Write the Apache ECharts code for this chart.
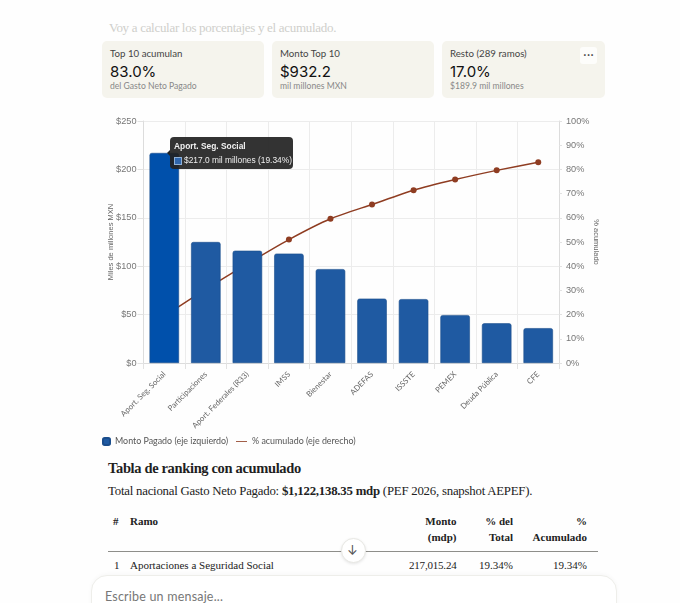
<!DOCTYPE html>
<html lang="es">
<head>
<meta charset="utf-8">
<style>
html,body{margin:0;padding:0;background:#fefefe;width:680px;height:603px;overflow:hidden}
.t{position:absolute;white-space:nowrap;line-height:1;transform:translateY(-50%)}
.s{font-family:"Liberation Serif",serif;color:#222}
.n{font-family:"Inter","Noto Sans",sans-serif}
.l{font-family:"Lato","Noto Sans",sans-serif}
.card{position:absolute;top:41px;height:57px;background:#f5f4ed;border-radius:5px}
.r{text-align:right;transform:translate(-100%,-50%)}
b{font-weight:700}
</style>
<script src="https://cdn.jsdelivr.net/npm/echarts@6/dist/echarts.min.js"></script>
</head>
<body>
<div class="t s" style="left:109px;top:27px;font-size:13px;letter-spacing:-.3px;color:#cfcfcb">Voy a calcular los porcentajes y el acumulado.</div>

<div class="card" style="left:102px;width:162px"></div>
<div class="card" style="left:272px;width:162px"></div>
<div class="card" style="left:442px;width:163px"></div>
<div class="t l" style="left:110px;top:54px;font-size:9.7px;color:#444">Top 10 acumulan</div>
<div class="t n" style="left:110px;top:70.5px;font-size:15px;color:#111">83.0%</div>
<div class="t l" style="left:110px;top:86px;font-size:8.6px;color:#888">del Gasto Neto Pagado</div>
<div class="t l" style="left:280px;top:54px;font-size:9.7px;color:#444">Monto Top 10</div>
<div class="t n" style="left:280px;top:70.5px;font-size:15px;color:#111">$932.2</div>
<div class="t l" style="left:280px;top:86px;font-size:8.6px;color:#888">mil millones MXN</div>
<div class="t l" style="left:450px;top:54px;font-size:9.7px;color:#444">Resto (289 ramos)</div>
<div class="t n" style="left:450px;top:70.5px;font-size:15px;color:#111">17.0%</div>
<div class="t l" style="left:450px;top:86px;font-size:8.6px;color:#888">$189.9 mil millones</div>
<div style="position:absolute;left:580px;top:47px;width:17px;height:17px;background:#fdfdfb;border-radius:3px"></div>
<div class="t n" style="left:583px;top:55px;font-size:11px;font-weight:700;color:#333">···</div>

<div id="chart" style="position:absolute;left:90px;top:105px;width:530px;height:350px"></div>

<div class="t s" style="left:108px;top:468px;font-size:14.5px;letter-spacing:-.35px;font-weight:700;color:#1f1f1f">Tabla de ranking con acumulado</div>
<div class="t s" style="left:108px;top:491px;font-size:12.8px;letter-spacing:-.22px">Total nacional Gasto Neto Pagado: <b>$1,122,138.35 mdp</b> (PEF 2026, snapshot AEPEF).</div>
<div class="t s" style="left:113px;top:521px;font-size:11px;font-weight:700">#</div>
<div class="t s" style="left:130px;top:521px;font-size:11px;font-weight:700">Ramo</div>
<div class="t s r" style="left:456.5px;top:521px;font-size:11px;font-weight:700">Monto</div>
<div class="t s r" style="left:456.5px;top:537px;font-size:11px;font-weight:700">(mdp)</div>
<div class="t s r" style="left:513px;top:521px;font-size:11px;font-weight:700">% del</div>
<div class="t s r" style="left:513px;top:537px;font-size:11px;font-weight:700">Total</div>
<div class="t s r" style="left:587px;top:521px;font-size:11px;font-weight:700">%</div>
<div class="t s r" style="left:587px;top:537px;font-size:11px;font-weight:700">Acumulado</div>
<div style="position:absolute;left:108px;top:551px;width:490px;height:1px;background:#8e8e8a"></div>
<div class="t s" style="left:114px;top:565px;font-size:11px">1</div>
<div class="t s" style="left:130px;top:565px;font-size:11px">Aportaciones a Seguridad Social</div>
<div class="t s r" style="left:456.5px;top:565px;font-size:11px;letter-spacing:-.2px">217,015.24</div>
<div class="t s r" style="left:513px;top:565px;font-size:11px">19.34%</div>
<div class="t s r" style="left:587px;top:565px;font-size:11px">19.34%</div>

<div style="position:absolute;left:341px;top:538px;width:23px;height:23px;border-radius:50%;background:#fff;border:1px solid #e8e8e4;box-shadow:0 1px 3px rgba(0,0,0,.1)"></div>
<div class="t n" style="left:347px;top:550px;font-size:13px;color:#555">↓</div>

<div style="position:absolute;left:91px;top:575px;width:524px;height:60px;border-radius:16px;background:#fff;border:1px solid #eeeeea;box-shadow:0 -1px 4px rgba(0,0,0,.03)"></div>
<div class="t l" style="left:105px;top:597px;font-size:12.5px;letter-spacing:.2px;color:#777">Escribe un mensaje...</div>

<script>
const categories = ["Aport. Seg. Social","Participaciones","Aport. Federales (R33)","IMSS","Bienestar","ADEFAS","ISSSTE","PEMEX","Deuda Pública","CFE"];
const montoPagado = [217.0,125.0,116.0,113.0,97.0,66.5,66.0,49.5,41.0,36.0];
const acumulado = [19.34,30.5,41.0,51.0,59.6,65.5,71.4,75.8,79.6,83.0];
const leftTicks = [0,50,100,150,200,250];
const barName = "Monto Pagado (eje izquierdo)";
const lineName = "% acumulado (eje derecho)";
const labelFont = '"Lato","Noto Sans",sans-serif';
const tickFont = '"Liberation Sans",sans-serif';

const chart = echarts.init(document.getElementById('chart'), null, {renderer:'canvas'});
chart.setOption({
  animation:false,
  backgroundColor:'transparent',
  tooltip:{
    trigger:'item',triggerOn:'none',alwaysShowContent:true,transitionDuration:0,
    backgroundColor:'transparent',borderWidth:0,padding:0,shadowBlur:0,
    extraCssText:'box-shadow:none;',
    position:[80,32],
    formatter:function(p){
      const i=p.dataIndex;
      return '<div style="position:relative;background:rgba(34,34,34,.92);border-radius:4px;width:123px;height:32px;box-sizing:border-box;padding:2px 4px;color:#fff;font:9px/1.4 Liberation Sans,sans-serif">'
        +'<div style="position:absolute;left:-3px;top:13px;width:0;height:0;border-top:3px solid transparent;border-bottom:3px solid transparent;border-right:3px solid #222"></div>'
        +'<div style="font-weight:700;height:14px;line-height:14px;font-size:8.4px;color:#f0f0f0">'+categories[i]+'</div>'
        +'<div style="display:flex;align-items:center;height:15px;font-size:8.4px;color:#eee;white-space:nowrap"><span style="flex:none;box-sizing:border-box;display:inline-block;width:8px;height:8px;background:#2f66ad;border:1px solid #8fb0d6;margin-right:2px"></span>$'+montoPagado[i].toFixed(1)+' mil millones ('+acumulado[0].toFixed(2)+'%)</div></div>';
    }
  },
  legend:[{
    left:12,top:332,padding:0,itemWidth:7,itemHeight:7,
    textStyle:{fontFamily:labelFont,fontSize:8.9,color:'#555'},
    data:[{name:barName,icon:'roundRect'}]
  },{
    left:146,top:332,padding:0,itemWidth:11,itemHeight:7,
    textStyle:{fontFamily:labelFont,fontSize:8.9,color:'#555'},
    data:[{name:lineName,icon:'path://M0 4H20V5.5H0Z'}]
  }],
  grid:{left:53.5,right:61,top:16,bottom:92,containLabel:false},
  xAxis:{
    type:'category',data:categories,
    boundaryGap:true,
    axisLine:{lineStyle:{color:'#dcdcdc'}},
    axisTick:{show:true,length:6,lineStyle:{color:'#e2e2e2'},alignWithLabel:false},
    splitLine:{show:true,lineStyle:{color:'#ececec'}},
    axisLabel:{rotate:45,interval:0,fontFamily:labelFont,fontSize:7.8,color:'#666',margin:10}
  },
  yAxis:[{
    type:'value',min:leftTicks[0],max:leftTicks[leftTicks.length-1],interval:50,
    name:'Miles de millones MXN',nameLocation:'middle',nameGap:29,nameRotate:90,nameMoveOverlap:false,
    nameTextStyle:{fontFamily:tickFont,fontSize:7.5,color:'#666'},
    axisLine:{show:true,lineStyle:{color:'#dcdcdc'}},
    axisTick:{show:true,length:6,lineStyle:{color:'#e2e2e2'}},
    splitLine:{show:true,lineStyle:{color:'#ececec'}},
    axisLabel:{fontFamily:tickFont,fontSize:9.2,color:'#777',margin:7,formatter:'${value}'}
  },{
    type:'value',min:0,max:100,interval:10,
    name:'% acumulado',nameLocation:'middle',nameGap:33,nameRotate:-90,nameMoveOverlap:false,
    nameTextStyle:{fontFamily:tickFont,fontSize:7.5,color:'#666'},
    axisLine:{show:true,lineStyle:{color:'#dcdcdc'}},
    axisTick:{show:true,length:3,lineStyle:{color:'#e2e2e2'}},
    splitLine:{show:false},
    axisLabel:{fontFamily:tickFont,fontSize:9.2,color:'#777',margin:7,formatter:'{value}%'}
  }],
  series:[{
    name:barName,type:'bar',z:3,barWidth:'71%',
    data:montoPagado.map((v,i)=>i===0?{value:v,itemStyle:{color:'#0050ab'}}:v),
    itemStyle:{color:'#1f5aa2',borderColor:'#1a4d8c',borderWidth:0.6,borderRadius:[2,2,0,0]}
  },{
    name:lineName,type:'line',yAxisIndex:1,z:2,smooth:0.2,
    data:acumulado,symbol:'circle',symbolSize:6,
    lineStyle:{color:'#8f3d22',width:1.5},itemStyle:{color:'#8f3d22'}
  }]
});
chart.dispatchAction({type:'showTip',seriesIndex:0,dataIndex:0});
</script>
</body>
</html>
